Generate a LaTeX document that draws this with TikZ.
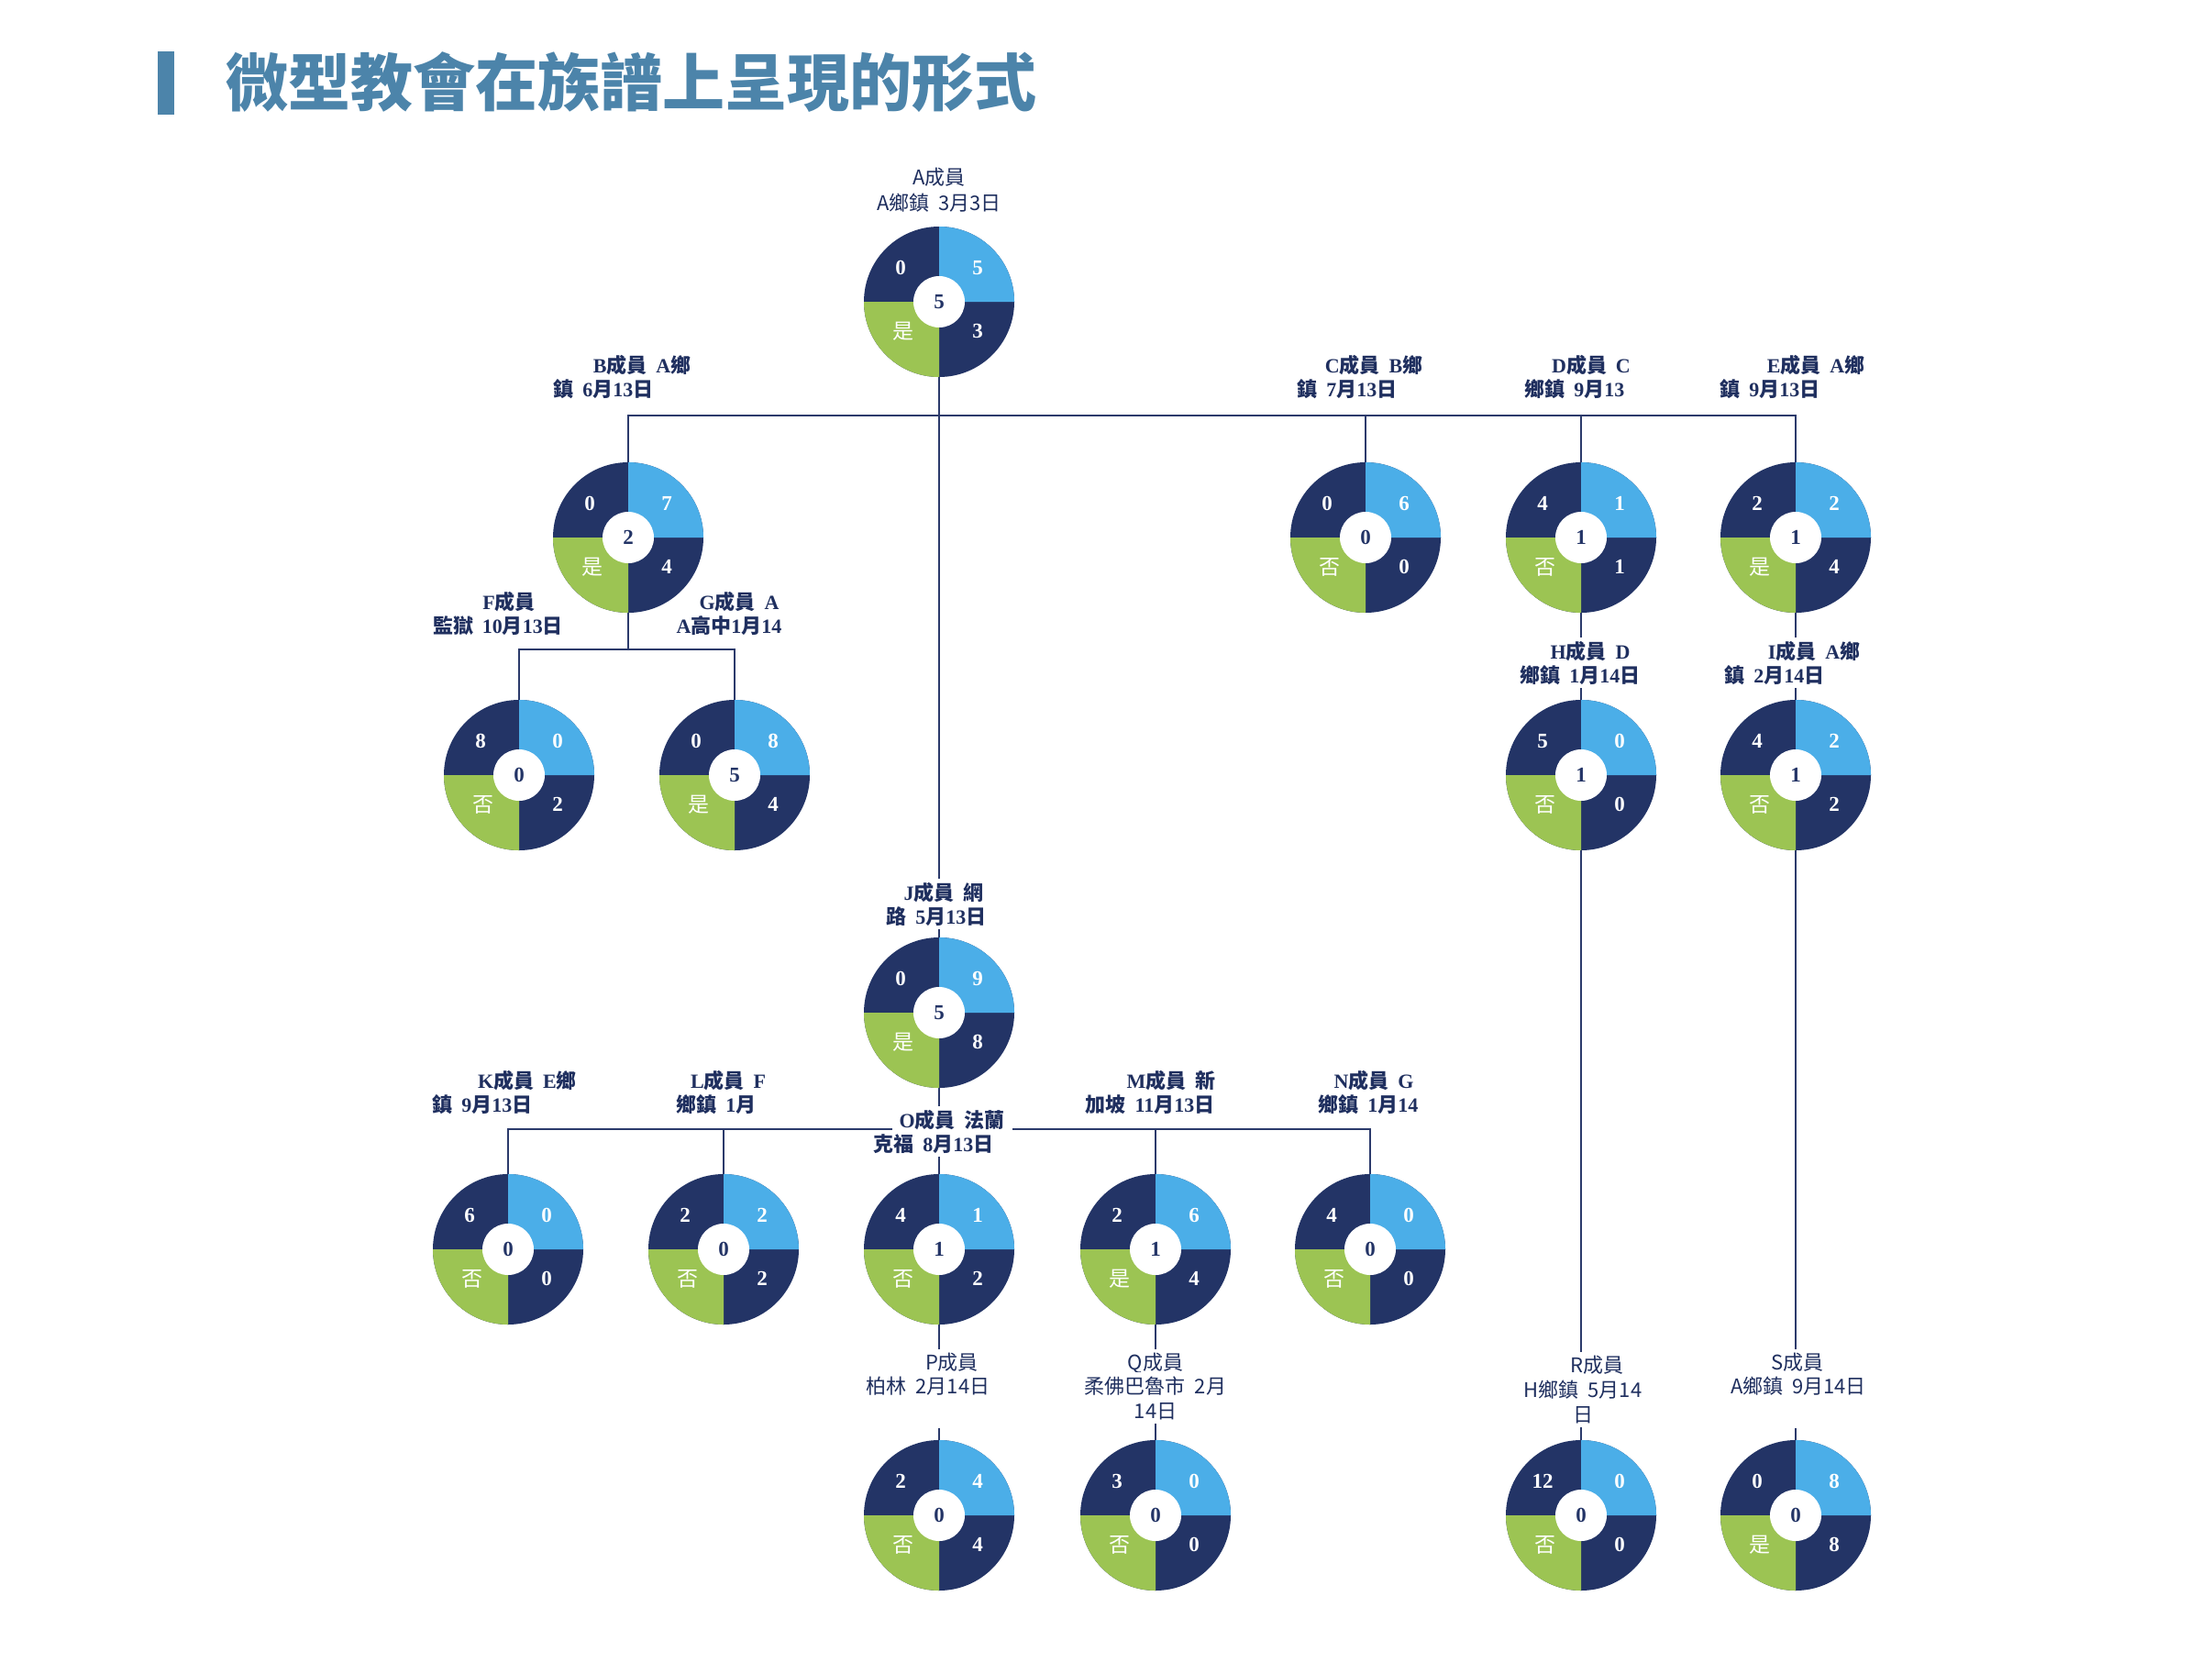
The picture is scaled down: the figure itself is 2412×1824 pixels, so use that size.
\documentclass[tikz,border=0pt]{standalone}
\usepackage{fontspec}
\setmainfont{Liberation Serif}
\newfontfamily\cjk{Noto Sans CJK TC}
\newcommand\zh[1]{{\cjk #1}}
\newcommand\gap{\hspace{0.45em}}
\definecolor{navyc}{HTML}{233466}
\definecolor{bluec}{HTML}{4BAEE8}
\definecolor{greenc}{HTML}{9CC453}
\definecolor{linec}{HTML}{2B3A6B}
\definecolor{navyt}{HTML}{1F2F5F}
\definecolor{titlec}{HTML}{4C84AA}
\tikzset{
  lab/.style={anchor=base, fill=white, inner xsep=8pt, inner ysep=4pt, text=navyt,
    font=\fontsize{22}{26}\selectfont\bfseries},
  labs/.style={lab, font=\fontsize{22}{26}\selectfont\cjk},
  ring/.style={circle, minimum size=164pt, inner sep=0pt, outer sep=0pt},
  num/.style={text=white, font=\fontsize{23}{23}\selectfont\bfseries, inner sep=0pt},
  mid/.style={num, text=navyc},
  yn/.style={text=white, font=\fontsize{23}{23}\selectfont\cjk, inner sep=0pt},
  conn/.style={draw=linec, line width=2pt},
}
\newcommand\donut[8]{%
  \node[ring] (#1) at (#2,#3) {};
  \fill[navyc] (#1.center) circle[radius=82pt];
  \fill[bluec] (#1.center) -- ++(82pt,0pt) arc[start angle=0,end angle=90,radius=82pt] -- cycle;
  \fill[greenc] (#1.center) -- ++(-82pt,0pt) arc[start angle=180,end angle=270,radius=82pt] -- cycle;
  \fill[white] (#1.center) circle[radius=28pt];
  \node[num] (#1tl) at ([shift={(-42pt,37pt)}]#1.center) {#4};
  \node[num] (#1tr) at ([shift={(42pt,37pt)}]#1.center) {#5};
  \node[mid] (#1c) at (#1.center) {#6};
  \node[yn] (#1bl) at ([shift={(-39pt,-32pt)}]#1.center) {#7};
  \node[num] (#1br) at ([shift={(42pt,-32pt)}]#1.center) {#8};
}
\begin{document}
\begin{tikzpicture}[x=1pt,y=1pt]
\useasboundingbox (0,0) rectangle (2412,-1824);
\fill[white] (0,0) rectangle (2412,-1824);

% title
\node[fill=titlec, minimum width=18pt, minimum height=69pt, inner sep=0pt] (bar) at (181,-90.5) {};
\node[text=titlec, font=\fontsize{68}{68}\selectfont\cjk\bfseries, inner sep=0pt] (title) at (688,-90) {微型教會在族譜上呈現的形式};

\coordinate (bar1) at (0,-453);
\coordinate (bar2) at (0,-707.5);
\coordinate (bar3) at (0,-1230.5);

\node[ring] (A) at (1024,-329) {};
\node[ring] (B) at (685,-586) {};
\node[ring] (C) at (1489,-586) {};
\node[ring] (D) at (1724,-586) {};
\node[ring] (E) at (1958,-586) {};
\node[ring] (F) at (566,-845) {};
\node[ring] (G) at (801,-845) {};
\node[ring] (H) at (1724,-845) {};
\node[ring] (I) at (1958,-845) {};
\node[ring] (J) at (1024,-1104) {};
\node[ring] (K) at (554,-1362) {};
\node[ring] (L) at (789,-1362) {};
\node[ring] (O) at (1024,-1362) {};
\node[ring] (M) at (1260,-1362) {};
\node[ring] (N) at (1494,-1362) {};
\node[ring] (P) at (1024,-1652) {};
\node[ring] (Q) at (1260,-1652) {};
\node[ring] (R) at (1724,-1652) {};
\node[ring] (S) at (1958,-1652) {};

% connectors
\draw[conn] (A.south) -- (J.north);
\draw[conn] (B.north) |- (E.north |- bar1) -- (E.north);
\draw[conn] (C.north) -- (C.north |- bar1);
\draw[conn] (D.north) -- (D.north |- bar1);
\draw[conn] (B.south) -- (B.south |- bar2);
\draw[conn] (F.north) |- (G.north |- bar2) -- (G.north);
\draw[conn] (D.south) -- (H.north);
\draw[conn] (E.south) -- (I.north);
\draw[conn] (H.south) -- (R.north);
\draw[conn] (I.south) -- (S.north);
\draw[conn] (J.south) -- (J.south |- bar3);
\draw[conn] (K.north) |- (N.north |- bar3) -- (N.north);
\draw[conn] (L.north) -- (L.north |- bar3);
\draw[conn] (O.north) -- (O.north |- bar3);
\draw[conn] (M.north) -- (M.north |- bar3);
\draw[conn] (O.south) -- (P.north);
\draw[conn] (M.south) -- (Q.north);

% donuts
\donut{dA}{1024}{-329}{0}{5}{5}{是}{3}
\donut{dB}{685}{-586}{0}{7}{2}{是}{4}
\donut{dC}{1489}{-586}{0}{6}{0}{否}{0}
\donut{dD}{1724}{-586}{4}{1}{1}{否}{1}
\donut{dE}{1958}{-586}{2}{2}{1}{是}{4}
\donut{dF}{566}{-845}{8}{0}{0}{否}{2}
\donut{dG}{801}{-845}{0}{8}{5}{是}{4}
\donut{dH}{1724}{-845}{5}{0}{1}{否}{0}
\donut{dI}{1958}{-845}{4}{2}{1}{否}{2}
\donut{dJ}{1024}{-1104}{0}{9}{5}{是}{8}
\donut{dK}{554}{-1362}{6}{0}{0}{否}{0}
\donut{dL}{789}{-1362}{2}{2}{0}{否}{2}
\donut{dO}{1024}{-1362}{4}{1}{1}{否}{2}
\donut{dM}{1260}{-1362}{2}{6}{1}{是}{4}
\donut{dN}{1494}{-1362}{4}{0}{0}{否}{0}
\donut{dP}{1024}{-1652}{2}{4}{0}{否}{4}
\donut{dQ}{1260}{-1652}{3}{0}{0}{否}{0}
\donut{dR}{1724}{-1652}{12}{0}{0}{否}{0}
\donut{dS}{1958}{-1652}{0}{8}{0}{是}{8}

% labels
\node[labs] (A1) at (1024,-201) {A成員};
\node[labs] (A2) at (1024,-229) {A鄉鎮\gap 3月3日};
\node[lab] (B1) at (700,-406) {B\zh{成員}\gap A\zh{鄉}};
\node[lab] (B2) at (658,-432) {\zh{鎮}\gap 6\zh{月}13\zh{日}};
\node[lab] (C1) at (1498,-406) {C\zh{成員}\gap B\zh{鄉}};
\node[lab] (C2) at (1469,-432) {\zh{鎮}\gap 7\zh{月}13\zh{日}};
\node[lab] (D1) at (1735,-406) {D\zh{成員}\gap C};
\node[lab] (D2) at (1717,-432) {\zh{鄉鎮}\gap 9\zh{月}13};
\node[lab] (E1) at (1980,-406) {E\zh{成員}\gap A\zh{鄉}};
\node[lab] (E2) at (1930,-432) {\zh{鎮}\gap 9\zh{月}13\zh{日}};
\node[lab] (F1) at (555,-664) {F\zh{成員}};
\node[lab] (F2) at (543,-690) {\zh{監獄}\gap 10\zh{月}13\zh{日}};
\node[lab] (G1) at (806,-664) {G\zh{成員}\gap A};
\node[lab] (G2) at (795,-690) {A\zh{高中}1\zh{月}14};
\node[lab] (H1) at (1734,-718) {H\zh{成員}\gap D};
\node[lab] (H2) at (1723,-744) {\zh{鄉鎮}\gap 1\zh{月}14\zh{日}};
\node[lab] (I1) at (1978,-718) {I\zh{成員}\gap A\zh{鄉}};
\node[lab] (I2) at (1935,-744) {\zh{鎮}\gap 2\zh{月}14\zh{日}};
\node[lab] (J1) at (1029,-981) {J\zh{成員}\gap\zh{網}};
\node[lab] (J2) at (1021,-1007) {\zh{路}\gap 5\zh{月}13\zh{日}};
\node[lab] (K1) at (575,-1186) {K\zh{成員}\gap E\zh{鄉}};
\node[lab] (K2) at (526,-1212) {\zh{鎮}\gap 9\zh{月}13\zh{日}};
\node[lab] (L1) at (794,-1186) {L\zh{成員}\gap F};
\node[lab] (L2) at (781,-1212) {\zh{鄉鎮}\gap 1\zh{月}};
\node[lab] (M1) at (1277,-1186) {M\zh{成員}\gap\zh{新}};
\node[lab] (M2) at (1254,-1212) {\zh{加坡}\gap 11\zh{月}13\zh{日}};
\node[lab] (N1) at (1498,-1186) {N\zh{成員}\gap G};
\node[lab] (N2) at (1492,-1212) {\zh{鄉鎮}\gap 1\zh{月}14};
\node[lab] (O1) at (1038,-1229) {O\zh{成員}\gap\zh{法蘭}};
\node[lab] (O2) at (1018,-1255) {\zh{克福}\gap 8\zh{月}13\zh{日}};
\node[labs] (P1) at (1038,-1493) {P成員};
\node[labs, text depth=34pt] (P2) at (1012,-1519) {柏林\gap 2月14日};
\node[labs] (Q1) at (1260,-1493) {Q成員};
\node[labs] (Q2) at (1260,-1519) {柔佛巴魯市\gap 2月};
\node[labs] (Q3) at (1260,-1546) {14日};
\node[labs] (R1) at (1741,-1496) {R成員};
\node[labs] (R2) at (1726,-1523) {H鄉鎮\gap 5月14};
\node[labs] (R3) at (1726,-1550) {日};
\node[labs] (S1) at (1960,-1493) {S成員};
\node[labs, text depth=34pt] (S2) at (1961,-1519) {A鄉鎮\gap 9月14日};
\end{tikzpicture}
\end{document}
